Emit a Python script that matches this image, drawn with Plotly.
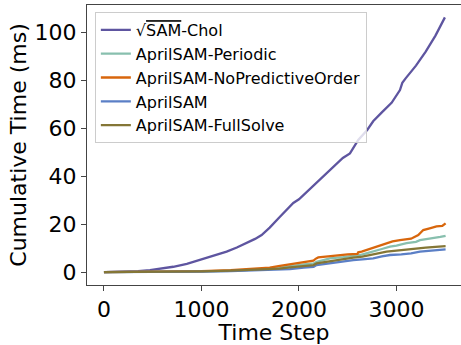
import plotly.graph_objects as go

# ---- data ----
chol_t = [0, 200, 350, 472, 600, 711, 850, 985, 1100, 1258, 1363, 1463, 1550, 1617, 1700, 1805, 1873, 1942, 2000,
          2079, 2160, 2250, 2350, 2450, 2523, 2557, 2590, 2608, 2700, 2761, 2850, 2950, 3036, 3060, 3094, 3200,
          3300, 3400, 3497]
chol_v = [0, 0.15, 0.4, 0.8, 1.4, 2.2, 3.4, 5.0, 6.5, 8.5, 10.2, 12.0, 13.8, 15.4, 18.5, 23.0, 26.1, 28.8, 30.3,
          33.3, 36.2, 39.7, 43.6, 47.5, 49.4, 51.5, 54.0, 55.0, 59.2, 62.8, 66.5, 70.5, 75.8, 78.8, 80.7, 86.0,
          91.8, 98.5, 106.1]

periodic_t = [0, 500, 1000, 1300, 1500, 1700, 1800, 1908, 2050, 2150, 2181, 2250, 2318, 2450, 2550, 2626, 2700,
              2762, 2850, 2933, 3000, 3104, 3200, 3241, 3350, 3450, 3504]
periodic_v = [0, 0.05, 0.25, 0.5, 0.8, 1.3, 1.8, 2.5, 3.2, 3.6, 4.3, 5.0, 5.7, 6.2, 6.7, 7.1, 7.9,
              8.5, 9.6, 10.6, 11.0, 12.0, 12.6, 13.3, 13.9, 14.6, 15.1]

nopred_t = [0, 500, 1000, 1300, 1500, 1700, 1805, 1900, 1942, 2050, 2147, 2170, 2198, 2300, 2421, 2500, 2600, 2608,
            2643, 2700, 2796, 2899, 2960, 3036, 3150, 3224, 3250, 3275, 3350, 3411, 3470, 3504]
nopred_v = [0, 0.1, 0.4, 0.8, 1.2, 1.8, 2.6, 3.2, 3.6, 4.1, 4.7, 5.5, 6.1, 6.5, 7.1, 7.4, 7.6, 8.2,
            8.5, 9.3, 10.8, 12.2, 12.8, 13.3, 13.9, 15.4, 16.5, 17.5, 18.3, 19.0, 19.2, 20.3]

april_t = [0, 500, 1000, 1300, 1500, 1700, 1800, 1908, 2050, 2150, 2181, 2300, 2450, 2557, 2650, 2762, 2850, 2933,
           3050, 3150, 3241, 3350, 3450, 3504]
april_v = [0, 0.03, 0.2, 0.4, 0.6, 0.85, 1.0, 1.25, 1.8, 2.2, 2.9, 3.6, 4.4, 5.0, 5.3, 5.7, 6.5, 7.1,
           7.4, 7.8, 8.5, 8.9, 9.2, 9.4]

full_t = [0, 500, 1000, 1300, 1500, 1700, 1800, 1908, 2050, 2150, 2181, 2300, 2450, 2557, 2650, 2728, 2800, 2899,
          3000, 3100, 3172, 3300, 3400, 3504]
full_v = [0, 0.05, 0.3, 0.55, 0.8, 1.1, 1.4, 1.9, 2.5, 2.9, 3.6, 4.4, 5.2, 6.0, 6.4, 7.1, 7.8, 8.5,
          8.9, 9.3, 9.9, 10.2, 10.5, 10.8]

series = [
    ("√<span style='text-decoration:overline'>SAM</span>-Chol", chol_t, chol_v, "#5e55a0"),
    ("AprilSAM-Periodic", periodic_t, periodic_v, "#88bfae"),
    ("AprilSAM-NoPredictiveOrder", nopred_t, nopred_v, "#d8660c"),
    ("AprilSAM", april_t, april_v, "#5b7fc6"),
    ("AprilSAM-FullSolve", full_t, full_v, "#847636"),
]

fig = go.Figure()
for name, t, v, c in series:
    fig.add_trace(go.Scatter(x=t, y=v, mode="lines", name=name,
                             line=dict(color=c, width=2.3)))

FONT = "DejaVu Sans"
fig.update_layout(
    width=461, height=345,
    margin=dict(l=87, r=0, t=5, b=60, autoexpand=False),
    paper_bgcolor="white", plot_bgcolor="white",
    font=dict(family=FONT, size=22, color="black"),
    showlegend=True,
    legend=dict(x=0.021, y=0.975, xanchor="left", yanchor="top",
                font=dict(family=FONT, size=16, color="black"),
                bgcolor="rgba(255,255,255,0.8)", bordercolor="#cccccc", borderwidth=1,
                tracegroupgap=0),
)
fig.update_xaxes(range=[-174, 3662], showgrid=False, zeroline=False,
                 showline=True, linecolor="#444", linewidth=1, mirror=True,
                 ticks="outside", ticklen=5, tickcolor="#444",
                 tickvals=[0, 1000, 2000, 3000],
                 title=dict(text="Time Step", font=dict(size=22), standoff=0),
                 tickfont=dict(size=22))
fig.update_yaxes(range=[-5.4, 111.25], showgrid=False, zeroline=False,
                 showline=True, linecolor="#444", linewidth=1,
                 ticks="outside", ticklen=5, tickcolor="#444",
                 tickvals=[0, 20, 40, 60, 80, 100],
                 title=dict(text="Cumulative Time (ms)", font=dict(size=22), standoff=1),
                 tickfont=dict(size=22))

fig.write_html("out.html", config={"displayModeBar": False},
               post_script="document.body.style.margin='0';")
